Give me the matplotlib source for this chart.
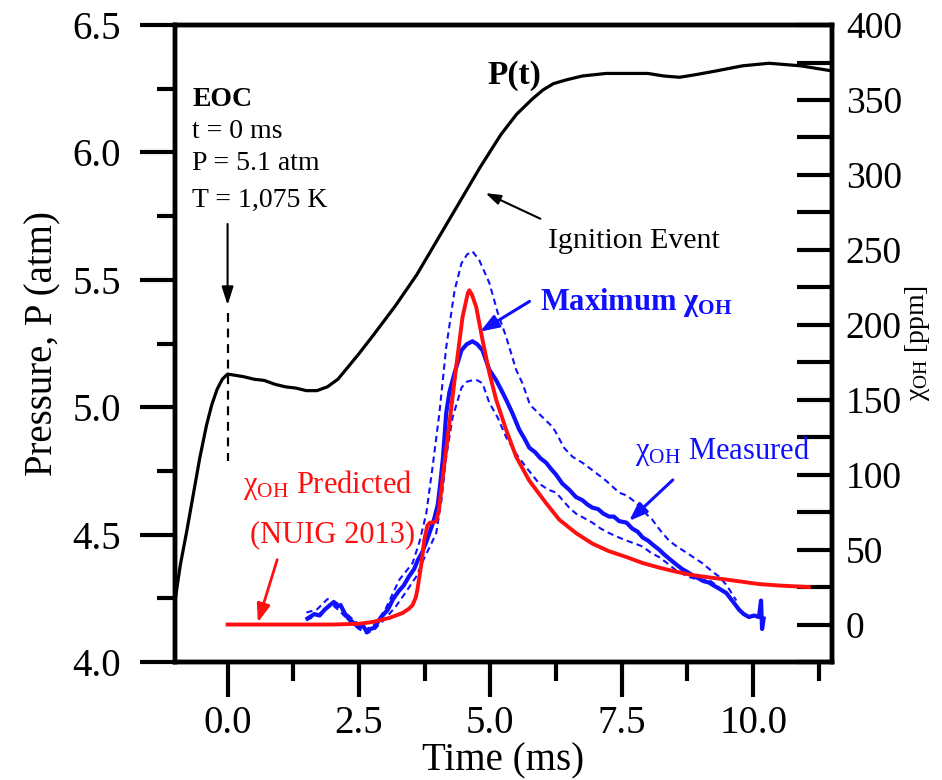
import matplotlib
matplotlib.use("Agg")
import matplotlib.pyplot as plt
from matplotlib.ticker import MultipleLocator, FixedLocator

plt.rcParams['font.family'] = ['Liberation Serif', 'DejaVu Serif']
plt.rcParams['mathtext.fontset'] = 'custom'
plt.rcParams['mathtext.rm'] = 'Liberation Serif'
plt.rcParams['mathtext.it'] = 'Liberation Serif:italic'
plt.rcParams['mathtext.bf'] = 'Liberation Serif:bold'

# ---------------- data ----------------
p_time = [-1.0, -0.9, -0.78, -0.65, -0.53, -0.4, -0.3, -0.2, -0.1, 0.0, 0.15, 0.3, 0.5, 0.7,
          0.9, 1.1, 1.3, 1.5, 1.7, 1.9, 2.1, 2.3, 2.5, 2.8, 3.2, 3.6, 4.0, 4.4, 4.8, 5.2,
          5.5, 5.8, 6.0, 6.2, 6.45, 6.75, 7.2, 7.7, 8.0, 8.3, 8.6, 8.9, 9.3, 9.8, 10.3,
          10.9, 11.5]
p_atm = [4.24, 4.38, 4.51, 4.66, 4.80, 4.93, 5.01, 5.07, 5.11, 5.13, 5.125, 5.12, 5.11, 5.105,
         5.09, 5.08, 5.075, 5.065, 5.065, 5.08, 5.11, 5.16, 5.21, 5.29, 5.40, 5.52, 5.66, 5.80,
         5.94, 6.07, 6.15, 6.21, 6.245, 6.27, 6.285, 6.30, 6.31, 6.31, 6.31, 6.30, 6.295,
         6.305, 6.32, 6.34, 6.35, 6.34, 6.32]

meas_time = [1.52, 1.65, 1.75, 1.85, 1.95, 2.02, 2.08, 2.15, 2.22, 2.3, 2.4, 2.5, 2.58, 2.65, 2.72,
             2.8, 2.88, 2.95, 3.05, 3.15, 3.25, 3.35, 3.45, 3.55, 3.62, 3.7, 3.78, 3.85, 3.92, 4.0,
             4.05, 4.1, 4.16, 4.22, 4.32, 4.45, 4.55, 4.66, 4.75, 4.85, 4.98, 5.11, 5.2, 5.3, 5.42,
             5.55, 5.65, 5.74, 5.85, 5.95, 6.06, 6.15, 6.25, 6.37, 6.5, 6.63, 6.75, 6.85, 6.94, 7.05,
             7.15, 7.26, 7.35, 7.45, 7.59, 7.7, 7.8, 7.9, 8.0, 8.1, 8.21, 8.3, 8.4, 8.54, 8.65, 8.75,
             8.84, 8.95, 9.05, 9.16, 9.25, 9.35, 9.49, 9.6, 9.73, 9.82, 9.92, 10.02, 10.11, 10.15,
             10.17, 10.2]
meas_ppm = [4, 7, 6, 10, 13, 15, 12, 13, 8, 4, 1, -2, -1, -5, -3,
            -2, 3, 6, 10, 17, 22, 26, 32, 37, 43, 48, 55, 62, 69, 80,
            95, 112, 141, 155, 168, 183, 187, 189, 187, 183, 170, 163, 157, 150, 141,
            130, 124, 118, 115, 111, 108, 104, 100, 94, 90, 85, 83, 80, 78, 77,
            74, 72, 72, 69, 68, 64, 62, 58, 56, 53, 50, 47, 44, 40, 37, 35,
            33, 31, 29, 28, 26, 24, 21, 16, 10, 7, 5, 6, 5, 16,
            -3, 4]

upper_time = [1.5, 1.7, 1.9, 2.0, 2.1, 2.3, 2.5, 2.65, 2.8, 3.0, 3.27, 3.52, 3.65, 3.78, 3.9,
              4.03, 4.16, 4.32, 4.45, 4.56, 4.66, 4.79, 4.98, 5.14, 5.3, 5.49, 5.61, 5.74, 5.8,
              6.06, 6.18, 6.25, 6.4, 6.56, 6.75, 6.94, 7.2, 7.45, 7.6, 7.78, 7.9, 8.08, 8.25,
              8.4, 8.55, 8.73, 8.9, 9.03, 9.2, 9.35, 9.5, 9.68]
upper_ppm = [8, 10, 17, 16, 14, 6, 0, -3, 0, 10, 30, 41, 55, 74, 105,
             141, 185, 223, 241, 247, 249, 243, 228, 208, 192, 170, 161, 148, 145,
             136, 132, 128, 118, 112, 108, 103, 96, 88, 86, 81, 76, 70, 62,
             56, 52, 48, 44, 41, 36, 32, 26, 16]

lower_time = [1.5, 1.7, 1.9, 2.0, 2.1, 2.3, 2.5, 2.65, 2.8, 3.0, 3.2, 3.4, 3.59, 3.75, 3.85,
              3.97, 4.07, 4.16, 4.28, 4.45, 4.55, 4.66, 4.75, 4.85, 4.98, 5.14, 5.3, 5.49, 5.68,
              5.93, 6.1, 6.25, 6.4, 6.5, 6.63, 6.94, 7.1, 7.26, 7.45, 7.59, 7.75, 7.9, 8.05,
              8.21, 8.4, 8.54, 8.7, 8.84, 9.0, 9.16, 9.35]
lower_ppm = [3, 6, 11, 13, 10, 3, -3, -6, -3, 4, 12, 22, 32, 45, 52,
             61, 83, 112, 138, 158, 162, 163, 163, 161, 148, 138, 125, 114, 105,
             94, 90, 88, 82, 78, 74, 68, 64, 61, 58, 56, 54, 52, 48,
             45, 40, 36, 33, 31, 30, 29.7, 25]

pred_time = [0.0, 1.0, 2.0, 2.5, 2.76, 3.08, 3.33, 3.45, 3.52, 3.58, 3.61, 3.65, 3.69, 3.74,
             3.8, 3.85, 3.9, 3.97, 4.02, 4.05, 4.1, 4.22, 4.35, 4.47, 4.57, 4.6, 4.65, 4.73,
             4.85, 4.98, 5.11, 5.3, 5.49, 5.74, 6.06, 6.31, 6.63, 6.94, 7.25, 7.59, 7.9, 8.21,
             8.5, 8.84, 9.15, 9.49, 9.8, 10.11, 10.5, 11.06]
pred_ppm = [0, 0, 0, 0.5, 1.7, 4.4, 7.7, 10.5, 13, 18, 23, 32, 41, 56,
            66, 68, 68, 69, 76, 85, 100, 134, 172, 205, 221, 223, 220, 212,
            190, 168, 150, 130, 112, 96, 81, 70, 61, 54, 49, 45, 41, 38,
            35.5, 33, 31.5, 30, 28.5, 27, 26, 25]

x_ticks = [0.0, 2.5, 5.0, 7.5, 10.0]
x_ticklabels = ['0.0', '2.5', '5.0', '7.5', '10.0']
p_ticks = [4.0, 4.5, 5.0, 5.5, 6.0, 6.5]
p_ticklabels = ['4.0', '4.5', '5.0', '5.5', '6.0', '6.5']
chi_ticks = [0, 50, 100, 150, 200, 250, 300, 350, 400]
chi_ticklabels = ['0', '50', '100', '150', '200', '250', '300', '350', '400']

BLUE = '#1010ff'
RED = '#ff1010'

# ---------------- figure ----------------
fig = plt.figure(figsize=(9.42, 7.8), dpi=100)
ax = fig.add_axes([0.1858, 0.1513, 0.6974, 0.8166])
ax2 = ax.twinx()

ax.set_xlim(-1.0, 11.5)
ax.set_ylim(4.0, 6.5)
ax2.set_ylim(-25, 400)

ax.plot(p_time, p_atm, color='black', lw=2.3, solid_joinstyle='round')
ax2.plot(upper_time, upper_ppm, color=BLUE, lw=1.5, ls=(0, (3, 2)))
ax2.plot(lower_time, lower_ppm, color=BLUE, lw=1.5, ls=(0, (3, 2)))
ax2.plot(meas_time, meas_ppm, color=BLUE, lw=3.0, solid_joinstyle='round')
ax2.plot(pred_time, pred_ppm, color=RED, lw=2.8, solid_joinstyle='round')

# spines
for a in (ax, ax2):
    for s in a.spines.values():
        s.set_linewidth(3.2)

# x axis
ax.xaxis.set_major_locator(FixedLocator(x_ticks))
ax.set_xticklabels(x_ticklabels)
ax.xaxis.set_minor_locator(MultipleLocator(1.25))
ax.tick_params(axis='x', which='major', direction='out', length=25, width=3, pad=6, labelsize=28)
ax.tick_params(axis='x', which='minor', direction='out', length=14, width=3)
ax.tick_params(axis='x', top=False, which='both')

# left axis
ax.yaxis.set_major_locator(FixedLocator(p_ticks))
ax.set_yticklabels(p_ticklabels)
ax.yaxis.set_minor_locator(MultipleLocator(0.25))
ax.tick_params(axis='y', which='major', direction='out', length=25, width=3, pad=14, labelsize=28)
ax.tick_params(axis='y', which='minor', direction='out', length=13, width=3)

# right axis
ax2.yaxis.set_major_locator(FixedLocator(chi_ticks))
ax2.set_yticklabels(chi_ticklabels)
ax2.yaxis.set_minor_locator(MultipleLocator(25))
ax2.tick_params(axis='y', which='both', direction='in', length=25, width=3, pad=10, labelsize=27)

ax.set_xlabel('Time (ms)', fontsize=28, labelpad=0)
ax.set_ylabel('Pressure, P (atm)', fontsize=28, labelpad=8)
ax2.set_ylabel(r'$\mathrm{\chi}_{\mathrm{OH}}$ [ppm]', fontsize=20, labelpad=1)

# ---------------- annotations ----------------
tr = ax.transData
ax.text(-0.67, 6.206, 'EOC', fontsize=20, fontweight='bold', ha='left', va='center')
ax.text(-0.67, 6.083, 't = 0 ms', fontsize=20, ha='left', va='center')
ax.text(-0.67, 5.955, 'P = 5.1 atm', fontsize=20, ha='left', va='center')
ax.text(-0.67, 5.81, 'T = 1,075 K', fontsize=20, ha='left', va='center')

ax.annotate('', xy=(0.0, 5.39), xytext=(0.0, 5.73), xycoords=tr,
            arrowprops=dict(arrowstyle='-|>,head_length=1.1,head_width=0.35', color='black', lw=1.5))
ax.plot([0.0, 0.0], [5.37, 4.79], color='black', lw=1.6, ls=(0, (4, 3)))

ax.text(5.45, 6.30, 'P(t)', fontsize=24, fontweight='bold', ha='center', va='center')

ax.text(6.1, 5.652, 'Ignition Event', fontsize=21.5, ha='left', va='center')
ax.annotate('', xy=(4.86, 5.845), xytext=(6.0, 5.735), xycoords=tr,
            arrowprops=dict(arrowstyle='-|>,head_length=0.9,head_width=0.3', color='black', lw=1.5))

ax2.text(5.95, 5.41, r'Maximum $\mathbf{\chi}_{\mathbf{OH}}$', transform=tr, fontsize=22,
         fontweight='bold', color=BLUE, ha='left', va='center')
ax2.annotate('', xy=(4.76, 5.291), xytext=(5.79, 5.421), xycoords=tr,
             arrowprops=dict(arrowstyle='-|>,head_length=1.1,head_width=0.4', color=BLUE, lw=2.2))

ax2.text(7.75, 4.83, r'$\mathrm{\chi}_{\mathrm{OH}}$ Measured', transform=tr, fontsize=22,
         color=BLUE, ha='left', va='center')
ax2.annotate('', xy=(7.6, 4.546), xytext=(8.51, 4.722), xycoords=tr,
             arrowprops=dict(arrowstyle='-|>,head_length=1.1,head_width=0.4', color=BLUE, lw=2.2))

ax2.text(0.3, 4.695, r'$\mathrm{\chi}_{\mathrm{OH}}$ Predicted', transform=tr, fontsize=22,
         color=RED, ha='left', va='center')
ax2.text(0.42, 4.50, '(NUIG 2013)', transform=tr, fontsize=22, color=RED, ha='left', va='center')
ax2.annotate('', xy=(0.56, 4.145), xytext=(0.96, 4.412), xycoords=tr,
             arrowprops=dict(arrowstyle='-|>,head_length=1.1,head_width=0.4', color=RED, lw=2.0))

fig.savefig('out.png', dpi=100, facecolor='white')
